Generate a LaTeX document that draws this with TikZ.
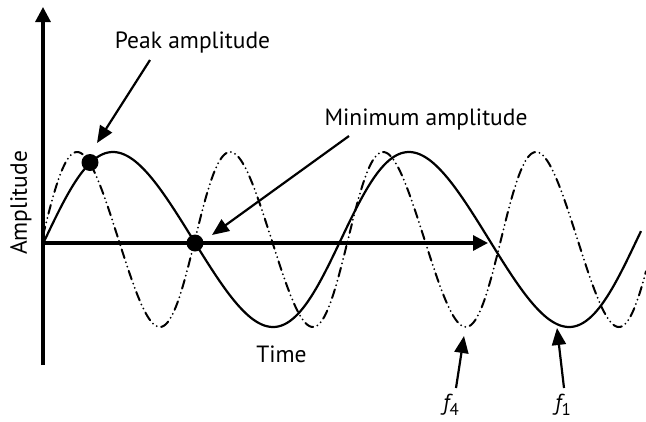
\documentclass[tikz,border=0pt]{standalone}
\usepackage{fontspec}
\setmainfont{PT Sans}
\usetikzlibrary{arrows.meta}
\begin{document}
\begin{tikzpicture}[x=1pt,y=-1pt,
  axis/.style={line width=3.2pt, -{Triangle[length=15pt,width=15pt]}},
  wave/.style={line width=2.2pt},
  dashwave/.style={line width=2pt, line cap=round, dash pattern=on 9pt off 4.5pt on 0pt off 4.5pt on 0pt off 4.5pt},
  pointer/.style={line width=2.2pt, -{Triangle[length=17pt,width=14pt]}},
  lbl/.style={font=\fontsize{23.5}{27}\selectfont, inner sep=0pt},
  sublbl/.style={font=\fontsize{23}{26}\selectfont\itshape, inner sep=0pt},
  dot/.style={circle, fill=black, minimum size=17pt, inner sep=0pt}]
\useasboundingbox (0,0) rectangle (646,421);
% axes
\coordinate (o) at (43,243);
\coordinate (ytip) at (43,7);
\coordinate (ybot) at (43,365);
\coordinate (xtip) at (488,243);
\draw[axis] (ybot) -- (ytip);
\draw[axis] (o) -- (xtip);
% waves
\draw[wave] plot[domain=43:641, samples=300] (\x, {239.5-87.5*sin((\x-45)/296*360 + 7.45*sin((\x-45)/296*360))});
\draw[dashwave] plot[domain=43:646, samples=400] (\x, {239.5-87.5*sin((\x-42)/153*360 + 7.45*sin((\x-42)/153*360))});
% dots
\node[dot] (peakdot) at (90,162.5) {};
\node[dot] (mindot) at (195,243) {};
% labels
\node[lbl, anchor=base] (peak) at (192.5,48) {Peak amplitude};
\node[lbl, anchor=base] (minamp) at (426,125) {Minimum amplitude};
\node[lbl, anchor=base] (time) at (281.5,362) {Time};
\node[lbl, rotate=90, anchor=base] (amp) at (27,203) {Amplitude};
\node[sublbl, anchor=base] (ffour) at (451,410) {f\raisebox{-5pt}{\fontsize{17}{17}\selectfont\upshape 4}};
\node[sublbl, anchor=base] (fone) at (563,410) {f\raisebox{-5pt}{\fontsize{17}{17}\selectfont\upshape 1}};
% pointers
\coordinate (peakfrom) at (150,60);
\coordinate (peakto) at (97,143);
\coordinate (minfrom) at (349,136);
\coordinate (minto) at (212,235);
\coordinate (ffourfrom) at (456,388);
\coordinate (ffourto) at (464,336);
\coordinate (fonefrom) at (564,388);
\coordinate (foneto) at (557,328);
\draw[pointer] (peakfrom) -- (peakto);
\draw[pointer] (minfrom) -- (minto);
\draw[pointer] (ffourfrom) -- (ffourto);
\draw[pointer] (fonefrom) -- (foneto);
\end{tikzpicture}
\end{document}
